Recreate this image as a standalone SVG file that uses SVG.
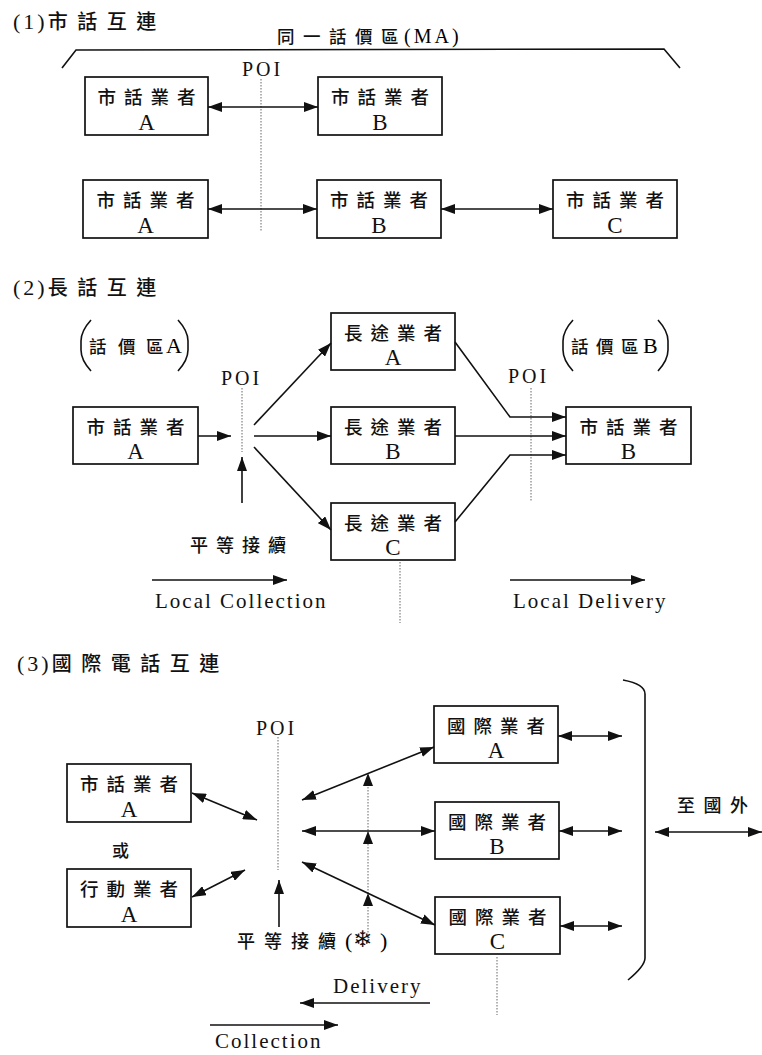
<svg xmlns="http://www.w3.org/2000/svg" width="762" height="1055" viewBox="0 0 762 1055">
<defs>
<style>
.box{fill:#fff;stroke:#111;stroke-width:1.7}
.ln{fill:none;stroke:#111;stroke-width:1.6}
.ar{fill:none;stroke:#111;stroke-width:1.6;marker-end:url(#ah)}
.da{fill:none;stroke:#111;stroke-width:1.6;marker-start:url(#ah);marker-end:url(#ah)}
.dot{fill:none;stroke:#666;stroke-width:1;stroke-dasharray:1.5 1.5}
.head{fill:#111}
.cj{font-family:"Noto Sans CJK TC","Noto Sans CJK SC",sans-serif;font-size:18px;font-weight:500;fill:#111}
.bx{font-family:"Noto Sans CJK TC","Noto Sans CJK SC",sans-serif;font-size:18.5px;font-weight:500;letter-spacing:8px;text-anchor:middle;fill:#111}
.lt{font-family:"Liberation Serif","DejaVu Serif",serif;font-size:23px;text-anchor:middle;fill:#111}
.en{font-family:"Liberation Serif","DejaVu Serif",serif;font-size:21px;letter-spacing:2px;fill:#111}
.poi{font-family:"Liberation Serif","DejaVu Serif",serif;font-size:20px;letter-spacing:3px;text-anchor:middle;fill:#111}
.tl{font-family:"Liberation Serif","DejaVu Serif",serif;font-size:22px;letter-spacing:3px}
.tc{font-family:"Noto Sans CJK TC","Noto Sans CJK SC",sans-serif;font-size:20px;font-weight:500;letter-spacing:9.5px}
.title{fill:#111}
</style>
<marker id="ah" viewBox="0 0 14 10" refX="14" refY="5" markerWidth="14" markerHeight="10" markerUnits="userSpaceOnUse" orient="auto-start-reverse"><path d="M0,0 L14,5 L0,10 z" fill="#111"/></marker>
</defs>
<rect width="762" height="1055" fill="#fff"/>

<!-- Section 1 -->
<g id="title1"><text class="title" x="13" y="29"><tspan class="tl">(1)</tspan><tspan class="tc">市話互連</tspan></text></g>
<g id="ma-label">
<text y="43"><tspan x="277 303 329 355 381" class="cj" style="font-size:17.5px">同一話價區</tspan><tspan x="404" class="tl" style="font-size:20px;letter-spacing:3px">(MA)</tspan></text>
<path class="ln" d="M62,68 L76,50 L664,49 L680,68"/>
</g>
<g id="poi1"><text class="poi" x="262.5" y="76">POI</text></g>

<g id="s1-a1"><rect class="box" x="85" y="77" width="123" height="58"/><text class="bx" x="150.5" y="104">市話業者</text><text class="lt" x="146.5" y="130">A</text></g>
<g id="s1-b1"><rect class="box" x="318" y="77" width="124" height="58"/><text class="bx" x="384" y="104">市話業者</text><text class="lt" x="380" y="130">B</text></g>
<g id="s1-a2"><rect class="box" x="83" y="180" width="125" height="58"/><text class="bx" x="149.5" y="207">市話業者</text><text class="lt" x="145.5" y="233">A</text></g>
<g id="s1-b2"><rect class="box" x="317" y="180" width="124" height="58"/><text class="bx" x="383" y="207">市話業者</text><text class="lt" x="379" y="233">B</text></g>
<g id="s1-c2"><rect class="box" x="553" y="180" width="124" height="58"/><text class="bx" x="619" y="207">市話業者</text><text class="lt" x="615" y="233">C</text></g>

<g id="s1-connectors">
<line class="dot" x1="261" y1="79" x2="261" y2="232"/>
<line class="da" x1="208" y1="107" x2="318" y2="107"/>
<line class="da" x1="208" y1="209" x2="317" y2="209"/>
<line class="da" x1="441" y1="209" x2="553" y2="209"/>
</g>

<!-- Section 2 -->
<g id="title2"><text class="title" x="13" y="295"><tspan class="tl">(2)</tspan><tspan class="tc">長話互連</tspan></text></g>
<g id="zone-a">
<path class="ln" d="M91,320 Q81,331 81,341 L81,350 Q81,360 91,371"/>
<path class="ln" d="M178,320 Q188,331 188,341 L188,350 Q188,360 178,371"/>
<text y="353"><tspan x="89 118 146" class="cj" style="font-size:17.5px">話價區</tspan><tspan x="166" class="tl" style="text-anchor:start;font-size:22px">A</tspan></text>
</g>
<g id="zone-b">
<path class="ln" d="M573,320 Q563,331 563,341 L563,350 Q563,360 573,371"/>
<path class="ln" d="M658,320 Q668,331 668,341 L668,350 Q668,360 658,371"/>
<text y="353"><tspan x="571 596 621" class="cj" style="font-size:17.5px">話價區</tspan><tspan x="643" class="tl" style="text-anchor:start;font-size:22px">B</tspan></text>
</g>
<g id="poi2a"><text class="poi" x="241.5" y="385">POI</text></g>
<g id="poi2b"><text class="poi" x="528.5" y="383">POI</text></g>

<g id="s2-ma"><rect class="box" x="73" y="407" width="125" height="57"/><text class="bx" x="139.5" y="434">市話業者</text><text class="lt" x="135.5" y="459">A</text></g>
<g id="s2-lda"><rect class="box" x="331" y="313" width="124" height="57"/><text class="bx" x="397" y="340">長途業者</text><text class="lt" x="393" y="365">A</text></g>
<g id="s2-ldb"><rect class="box" x="331" y="407" width="124" height="57"/><text class="bx" x="397" y="434">長途業者</text><text class="lt" x="393" y="459">B</text></g>
<g id="s2-ldc"><rect class="box" x="331" y="503" width="124" height="57"/><text class="bx" x="397" y="530">長途業者</text><text class="lt" x="393" y="555">C</text></g>
<g id="s2-mb"><rect class="box" x="566" y="407" width="125" height="57"/><text class="bx" x="632.5" y="434">市話業者</text><text class="lt" x="628.5" y="459">B</text></g>

<g id="s2-eq"><text class="cj" x="190" y="552" style="letter-spacing:8px">平等接續</text></g>
<g id="s2-lc"><text class="en" x="155" y="608">Local Collection</text></g>
<g id="s2-ld"><text class="en" x="513" y="608">Local Delivery</text></g>

<g id="s2-connectors">
<line class="dot" x1="242" y1="388" x2="242" y2="452"/>
<line class="dot" x1="531" y1="388" x2="531" y2="502"/>
<line class="dot" x1="400" y1="562" x2="400" y2="623"/>
<line class="ar" x1="198" y1="436" x2="231" y2="436"/>
<line class="ar" x1="242" y1="503" x2="242" y2="457"/>
<line class="ar" x1="254" y1="425" x2="331" y2="343"/>
<line class="ar" x1="254" y1="436" x2="331" y2="436"/>
<line class="ar" x1="254" y1="447" x2="331" y2="530"/>
<polyline class="ar" points="455,342 510,417 566,417"/>
<line class="ar" x1="455" y1="436" x2="566" y2="436"/>
<polyline class="ar" points="455,522 510,455 566,455"/>
<line class="ar" x1="152" y1="580" x2="287" y2="580"/>
<line class="ar" x1="510" y1="580" x2="645" y2="580"/>
</g>

<!-- Section 3 -->
<g id="title3"><text class="title" x="17" y="671"><tspan class="tl">(3)</tspan><tspan class="tc">國際電話互連</tspan></text></g>
<g id="poi3"><text class="poi" x="276.5" y="735">POI</text></g>

<g id="s3-ma"><rect class="box" x="67" y="764" width="124" height="58"/><text class="bx" x="133" y="791">市話業者</text><text class="lt" x="129" y="817">A</text></g>
<g id="s3-or"><text class="cj" x="112" y="857" style="font-size:17px">或</text></g>
<g id="s3-mob"><rect class="box" x="67" y="869" width="124" height="58"/><text class="bx" x="133" y="896">行動業者</text><text class="lt" x="129" y="922">A</text></g>
<g id="s3-ia"><rect class="box" x="434" y="706" width="124" height="57"/><text class="bx" x="500" y="733">國際業者</text><text class="lt" x="496" y="758">A</text></g>
<g id="s3-ib"><rect class="box" x="435" y="802" width="124" height="57"/><text class="bx" x="501" y="829">國際業者</text><text class="lt" x="497" y="854">B</text></g>
<g id="s3-ic"><rect class="box" x="435" y="897" width="125" height="57"/><text class="bx" x="501.5" y="924">國際業者</text><text class="lt" x="497.5" y="949">C</text></g>

<g id="s3-eq"><text y="948"><tspan class="cj" x="237 264 291 318">平等接續</tspan><tspan x="345" class="tl" style="letter-spacing:0">(</tspan><tspan x="353" y="947" style="font-family:'DejaVu Sans',sans-serif;font-size:23px;fill:#111">❄</tspan><tspan x="380" y="948" class="tl" style="letter-spacing:0">)</tspan></text></g>
<g id="s3-abroad"><text class="cj" x="677" y="812" style="letter-spacing:8.5px">至國外</text></g>
<g id="s3-bracket"><path class="ln" d="M623,680 Q645,684 645,694 L645,958 Q645,966 628,980"/></g>
<g id="s3-del"><text class="en" x="333" y="993">Delivery</text></g>
<g id="s3-col"><text class="en" x="215" y="1048">Collection</text></g>

<g id="s3-connectors">
<line class="dot" x1="278" y1="737" x2="278" y2="870"/>
<line class="dot" x1="368" y1="775" x2="368" y2="940"/>
<line class="dot" x1="497" y1="957" x2="497" y2="1015"/>
<line class="da" x1="192" y1="793" x2="257" y2="820"/>
<line class="da" x1="192" y1="897" x2="245" y2="870"/>
<line class="ar" x1="279" y1="927" x2="279" y2="880"/>
<line class="da" x1="302" y1="800" x2="434" y2="747"/>
<line class="da" x1="302" y1="831" x2="435" y2="831"/>
<line class="da" x1="302" y1="862" x2="435" y2="925"/>
<path class="head" d="M368,773 L363,786 L373,786 z"/>
<path class="head" d="M368,831 L363,844 L373,844 z"/>
<path class="head" d="M368,893 L363,906 L373,906 z"/>
<line class="da" x1="558" y1="736" x2="622" y2="736"/>
<line class="da" x1="559" y1="831" x2="622" y2="831"/>
<line class="da" x1="560" y1="926" x2="622" y2="926"/>
<line class="da" x1="655" y1="832" x2="762" y2="832"/>
<line class="ar" x1="430" y1="1003" x2="300" y2="1003"/>
<line class="ar" x1="210" y1="1025" x2="338" y2="1025"/>
</g>
</svg>
